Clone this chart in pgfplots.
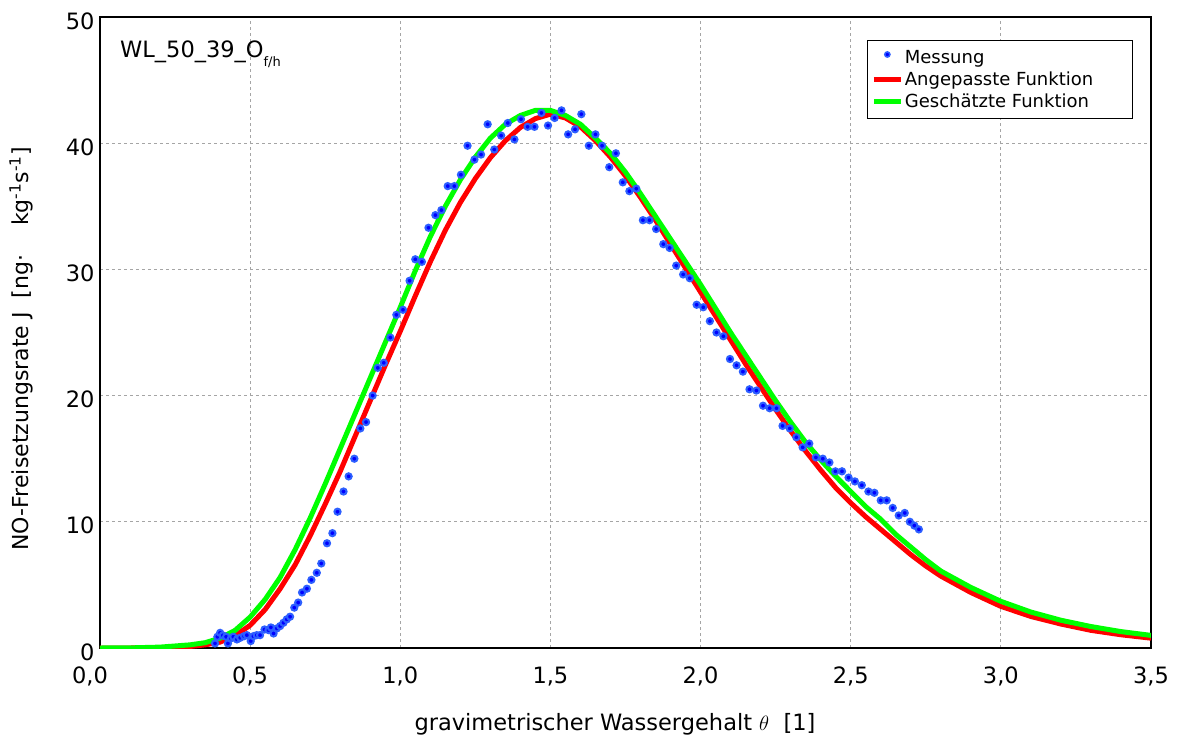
\documentclass[border=0pt]{standalone}
\usepackage{pgfplots}
\pgfplotsset{compat=1.18}
\usepackage{fontspec}
\setmainfont{DejaVu Sans}

\definecolor{messblau}{RGB}{0,0,255}
\definecolor{messrand}{RGB}{45,95,255}
\definecolor{fitrot}{RGB}{255,0,0}
\definecolor{schaetzgruen}{RGB}{0,255,0}
\definecolor{rastergrau}{RGB}{165,165,165}

\pgfplotsset{
  linienlegende/.style={legend image code/.code={\draw[##1] (0pt,0pt) -- (27pt,0pt);}},
  punktlegende/.style={legend image code/.code={\path (0pt,0pt) (27pt,0pt);
      \draw[##1] plot coordinates {(13.5pt,3pt)};}},
}

% Messwerte: gravimetrischer Wassergehalt / NO-Freisetzungsrate
\pgfplotstableread{
theta J
0.383 0.36
0.391 0.89
0.400 1.20
0.409 1.00
0.420 0.89
0.426 0.36
0.436 0.76
0.444 0.89
0.456 0.68
0.467 0.81
0.480 0.94
0.489 1.02
0.502 0.55
0.511 0.94
0.522 1.02
0.533 1.02
0.548 1.47
0.561 1.42
0.569 1.63
0.578 1.15
0.589 1.55
0.600 1.74
0.611 2.00
0.622 2.27
0.633 2.48
0.647 3.20
0.660 3.60
0.673 4.40
0.689 4.70
0.704 5.40
0.722 5.96
0.737 6.70
0.756 8.30
0.774 9.10
0.791 10.8
0.811 12.4
0.828 13.6
0.847 15.0
0.867 17.4
0.886 17.9
0.908 20.0
0.925 22.2
0.945 22.6
0.967 24.6
0.987 26.4
1.009 26.8
1.031 29.1
1.050 30.8
1.072 30.6
1.094 33.3
1.117 34.3
1.137 34.7
1.158 36.6
1.180 36.6
1.202 37.5
1.224 39.8
1.247 38.7
1.269 39.1
1.291 41.5
1.313 39.5
1.336 40.6
1.358 41.6
1.380 40.3
1.402 41.9
1.424 41.3
1.447 41.3
1.470 42.4
1.492 41.4
1.514 42.0
1.537 42.6
1.559 40.7
1.582 41.1
1.603 42.3
1.628 39.8
1.650 40.7
1.672 39.8
1.696 38.1
1.718 39.2
1.741 36.9
1.763 36.2
1.786 36.4
1.808 33.9
1.830 33.9
1.852 33.2
1.876 32.0
1.897 31.7
1.919 30.3
1.942 29.6
1.964 29.3
1.987 27.2
2.009 27.0
2.031 25.9
2.053 25.0
2.076 24.7
2.098 22.9
2.120 22.4
2.141 21.9
2.163 20.5
2.186 20.4
2.208 19.2
2.230 19.0
2.253 19.0
2.273 17.6
2.297 17.4
2.319 16.7
2.340 15.9
2.362 16.2
2.384 15.1
2.407 15.0
2.429 14.7
2.449 14.0
2.471 14.0
2.493 13.5
2.514 13.2
2.537 12.9
2.559 12.4
2.579 12.3
2.600 11.7
2.620 11.7
2.640 11.1
2.660 10.5
2.680 10.7
2.697 10.0
2.712 9.7
2.727 9.4
}\messung

% angepasste Funktion
\pgfplotstableread{
theta J
0.00 0.00
0.10 0.00
0.20 0.02
0.30 0.12
0.35 0.25
0.40 0.47
0.45 0.98
0.50 1.80
0.55 3.05
0.60 4.70
0.65 6.60
0.70 8.90
0.75 11.40
0.80 14.00
0.85 16.80
0.90 19.60
0.95 22.40
1.00 25.10
1.05 27.90
1.10 30.60
1.15 33.10
1.20 35.30
1.25 37.20
1.30 38.85
1.35 40.20
1.40 41.25
1.45 41.95
1.50 42.30
1.55 42.00
1.60 41.30
1.65 40.20
1.70 38.90
1.75 37.40
1.80 35.70
1.85 33.90
1.90 32.00
1.95 30.10
2.00 28.20
2.05 26.30
2.10 24.40
2.15 22.50
2.20 20.70
2.25 18.90
2.30 17.20
2.35 15.60
2.40 14.10
2.45 12.70
2.50 11.50
2.55 10.40
2.60 9.40
2.65 8.40
2.70 7.40
2.75 6.50
2.80 5.70
2.90 4.40
3.00 3.30
3.10 2.50
3.20 1.90
3.30 1.40
3.40 1.05
3.50 0.78
}\angepasst

% geschaetzte Funktion
\pgfplotstableread{
theta J
0.00 0.00
0.10 0.01
0.20 0.07
0.30 0.25
0.35 0.42
0.40 0.78
0.45 1.40
0.50 2.45
0.55 3.85
0.60 5.60
0.65 7.80
0.70 10.30
0.75 13.00
0.80 15.80
0.85 18.60
0.90 21.40
0.95 24.20
1.00 27.00
1.05 29.90
1.10 32.60
1.15 35.00
1.20 37.10
1.25 38.90
1.30 40.40
1.35 41.50
1.40 42.20
1.45 42.60
1.50 42.60
1.55 42.20
1.60 41.50
1.65 40.40
1.70 39.20
1.75 37.70
1.80 36.00
1.85 34.20
1.90 32.40
1.95 30.60
2.00 28.80
2.05 26.90
2.10 25.00
2.15 23.20
2.20 21.40
2.25 19.60
2.30 17.90
2.35 16.30
2.40 14.90
2.45 13.60
2.50 12.40
2.55 11.20
2.60 10.20
2.65 9.00
2.70 8.00
2.75 7.00
2.80 6.10
2.90 4.80
3.00 3.70
3.10 2.85
3.20 2.20
3.30 1.70
3.40 1.30
3.50 1.00
}\geschaetzt

\begin{document}
\begin{tikzpicture}
\useasboundingbox (-100pt,-92pt) rectangle (1077pt,648pt);
\begin{axis}[
  at={(0pt,0pt)}, anchor=south west,
  scale only axis, width=1051pt, height=631pt,
  xmin=0, xmax=3.5, ymin=0, ymax=50,
  xtick={0,0.5,1,1.5,2,2.5,3,3.5},
  xticklabels={{\hspace*{-20pt}0,0},{0,5},{1,0},{1,5},{2,0},{2,5},{3,0},{3,5}},
  ytick={0,10,20,30,40,50},
  yticklabels={0,10,20,30,40,50},
  major tick length=0pt,
  ticklabel style={font=\fontsize{22.5}{26}\selectfont},
  xticklabel style={anchor=base, yshift=-35pt},
  yticklabel style={anchor=east, xshift=-2pt, yshift=-4pt},
  axis line style={black, line width=1.2pt},
  grid=major,
  major grid style={rastergrau, dash pattern=on 3pt off 3pt, line width=0.9pt},
  xlabel={gravimetrischer Wassergehalt $\theta$\ \ [1]},
  xlabel style={at={(axis description cs:0.49,-0.1315)}, anchor=base, font=\fontsize{22.5}{26}\selectfont},
  ylabel={NO-Freisetzungsrate J\ \ [ng·\quad\ kg\textsuperscript{-1}s\textsuperscript{-1}]},
  ylabel style={at={(axis description cs:-0.0752,0.474)}, anchor=center, font=\fontsize{22}{26}\selectfont},
  legend style={at={(rel axis cs:0.9829,0.9635)}, anchor=north east,
    draw=black, line width=1.3pt, fill=white,
    font=\fontsize{18}{21}\selectfont,
    inner xsep=4pt, inner ysep=8pt, row sep=4pt,
    nodes={inner sep=1.5pt}},
  legend cell align=left,
]
\addlegendimage{only marks, mark=*, mark size=2.6pt,
  mark options={fill=messblau, draw=messrand, line width=1.5pt}, punktlegende}
\addlegendentry{\makebox[222pt][l]{Messung}}
\addlegendimage{fitrot, line width=5pt, linienlegende}
\addlegendentry{\makebox[222pt][l]{Angepasste Funktion}}
\addlegendimage{schaetzgruen, line width=5pt, linienlegende}
\addlegendentry{\makebox[222pt][l]{Geschätzte Funktion}}

\addplot[fitrot, line width=5pt, forget plot] table[x=theta, y=J] {\angepasst};
\addplot[schaetzgruen, line width=5pt, forget plot] table[x=theta, y=J] {\geschaetzt};
\addplot[only marks, mark=*, mark size=3.1pt,
  mark options={fill=messblau, draw=messrand, line width=2pt}, forget plot]
  table[x=theta, y=J] {\messung};

\node[anchor=base west, inner sep=0pt, font=\fontsize{22.5}{26}\selectfont]
  at (axis description cs:0.019,0.936) {WL\_50\_39\_O\raisebox{-9pt}{\fontsize{13}{15}\selectfont f/h}};
\end{axis}
\end{tikzpicture}
\end{document}
